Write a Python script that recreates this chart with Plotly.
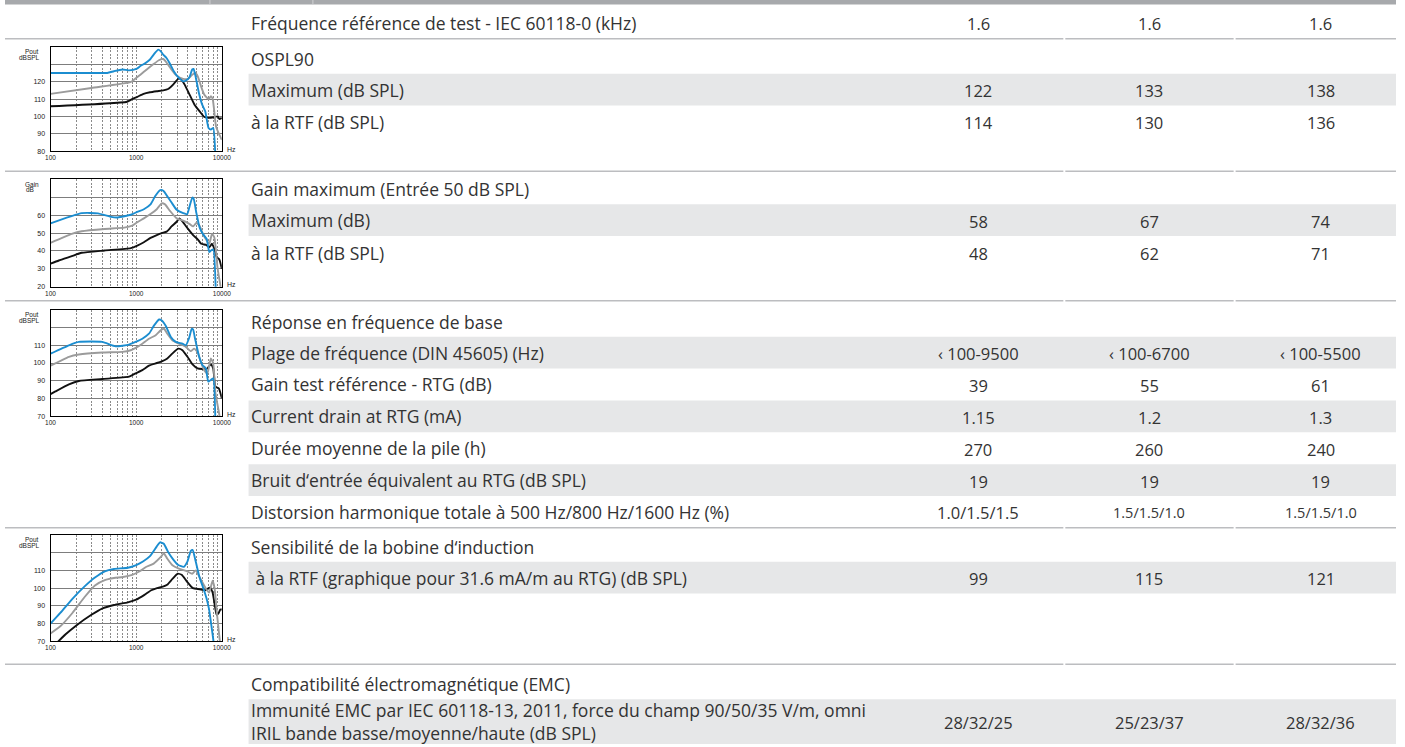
import plotly.graph_objects as go

W, H = 1405, 747

# ---------------- chart data ----------------
FREQ_GRID = [100, 200, 300, 400, 500, 600, 700, 800, 900,
             1000, 2000, 3000, 4000, 5000, 6000, 7000, 8000, 9000, 10000]
FREQ_LABELS = ["100", "", "", "", "", "", "", "", "",
               "1000", "", "", "", "", "", "", "", "", "10000"]

# Chart 1 : OSPL90 (Pout dBSPL)
OSPL_BLUE_F = [100, 300, 460, 550, 690, 820, 1020, 1120, 1270, 1450, 1660, 1810, 1930, 2070,
               2260, 2470, 2750, 3080, 3540, 3850, 4200, 4510, 4680, 4940, 5400, 5900, 6400,
               7000, 7460, 7950, 8420]
OSPL_BLUE_V = [125, 125, 125, 126, 127, 126.5, 127.5, 129, 130.5, 132.7, 136.5, 138.4, 137.5, 135.5,
               133.6, 130.4, 126, 122.7, 120.2, 120.8, 122.7, 127, 127.3, 123, 113.5, 106.8, 103,
               93.4, 92.5, 93.4, 76]
OSPL_GRAY_F = [100, 300, 857, 950, 1120, 1330, 1570, 1840, 2070, 2260, 2580, 2950, 3540, 4020,
               4510, 4940, 5240, 5720, 6230, 7000, 7460, 7830, 8550, 9340, 10000]
OSPL_GRAY_V = [113, 116.4, 119.7, 121.2, 124, 127, 129.8, 132.3, 133, 131, 127, 123.5, 121.6, 121.6,
               124, 125, 123, 117.4, 112.6, 110, 111.6, 110, 94.4, 89.6, 86.7]
OSPL_BLACK_F = [100, 783, 895, 1020, 1220, 1450, 1740, 2070, 2360, 2700, 3080, 3170, 3370, 3680,
                4200, 4800, 5500, 6260, 7160, 8170, 8950, 9340, 10000]
OSPL_BLACK_V = [105.9, 108.5, 110, 111.2, 113, 113.9, 114.5, 115, 115.8, 118.3, 121.6, 122, 121.2, 118.3,
                112.6, 106.8, 103, 99.7, 99.2, 99.7, 100.1, 98.6, 99.2]

# Chart 2 : Gain maximum (Gain dB)
GAIN_BLUE_F = [100, 231, 358, 510, 610, 867, 1030, 1230, 1470, 1670, 1910, 2090, 2270, 2590,
               2970, 3540, 3930, 4220, 4530, 4690, 5030, 5500, 6010, 6660, 7140, 7470, 7950, 8520]
GAIN_BLUE_V = [55.4, 61.1, 61, 59, 58.7, 60.2, 61.8, 63.3, 66, 70.7, 74, 73.5, 71, 67,
               63, 61.1, 60.5, 65.2, 69.8, 69.2, 61.5, 53.2, 49.5, 46.7, 39.4, 40.3, 40.8, 15]
GAIN_GRAY_F = [100, 177, 231, 428, 725, 900, 1030, 1230, 1470, 1740, 1990, 2170, 2480, 2970,
               3540, 4220, 4620, 5030, 5500, 6010, 6660, 7140, 7670, 8170, 8940, 9770]
GAIN_GRAY_V = [44.5, 49.5, 51, 52.3, 53, 54.1, 56, 58.2, 60.6, 63.3, 66.6, 66, 62.4, 58.2,
               56.9, 55, 53.7, 55.6, 54.1, 49.5, 45.8, 44, 49.5, 47.6, 30.1, 19]
GAIN_BLACK_F = [100, 125, 177, 231, 428, 867, 1030, 1230, 1470, 1740, 1990, 2270, 2590, 2970,
                3190, 3540, 4030, 4620, 5260, 5750, 6570, 7140, 7670, 8170, 8700, 9350, 10000]
GAIN_BLACK_V = [32.9, 34.7, 37.1, 39, 40.3, 41.6, 43, 44.9, 47.3, 48.9, 50, 50.8, 53.7, 56.3,
                58.2, 56, 52.3, 48.9, 46.4, 44, 43.4, 42.1, 44, 41.2, 36.6, 35.3, 30.1]

# Chart 3 : Réponse en fréquence de base (Pout dBSPL)
RESP_BLUE_F = [100, 164, 214, 402, 575, 825, 985, 1180, 1410, 1620, 1850, 1990, 2220, 2540,
               2900, 3470, 3800, 4150, 4450, 4620, 4870, 5440, 5950, 6500, 6950, 7440, 7930, 8430]
RESP_BLUE_V = [105.3, 110, 111.9, 111.9, 109.4, 110.4, 111.9, 113.7, 116.5, 121.2, 124.5, 124, 120.8, 114.7,
               111.9, 110.9, 110, 114.1, 119.3, 118.9, 113.7, 103.5, 98.8, 97, 89.5, 90.5, 91.4, 65]
RESP_GRAY_F = [100, 164, 214, 402, 689, 862, 985, 1180, 1410, 1690, 1930, 2110, 2310, 2640,
               3170, 3800, 4340, 4750, 5200, 5680, 6220, 6790, 7440, 7930, 8430, 9210, 9630]
RESP_GRAY_V = [98.5, 103.5, 104.8, 105.9, 106.3, 107.2, 108.5, 110.9, 113.7, 115.6, 118.4, 119.3, 116.5, 112.8,
               110.9, 109.1, 106.7, 108.1, 106.3, 100.7, 96, 94.2, 102.6, 99.8, 83, 72.8, 67]
RESP_BLACK_F = [100, 114, 164, 214, 402, 825, 985, 1180, 1410, 1690, 2020, 2310, 2640, 3100,
                3470, 3970, 4550, 5200, 5950, 6640, 7440, 7930, 8430, 9210, 10000]
RESP_BLACK_V = [82.5, 84, 88, 89.9, 91, 92.3, 94.2, 96, 98.5, 99.8, 101.1, 102.6, 105.3, 108.1,
                107.2, 103.5, 99.2, 97, 96.6, 96.6, 99.2, 97, 86.7, 85.8, 80.2]

# Chart 4 : Sensibilité de la bobine d'induction (Pout dBSPL)
COIL_BLUE_F = [100, 130, 180, 250, 330, 430, 550, 800, 1000, 1200, 1450, 1740, 1900, 2100,
               2350, 2700, 3100, 3600, 3950, 4350, 4560, 4900, 5500, 6000, 6600, 7100, 7500, 7900, 8200]
COIL_BLUE_V = [80, 86, 94, 101, 106, 109.5, 110.8, 111.5, 113, 115, 118, 123.5, 125.8, 125,
               120.5, 116.2, 113, 112, 114.8, 121, 121.5, 116, 106, 100.8, 94.6, 88, 80, 72, 66]
COIL_GRAY_F = [100, 130, 180, 250, 330, 430, 550, 700, 900, 1100, 1300, 1600, 1950, 2100,
               2300, 2650, 3150, 3950, 4500, 4950, 5500, 6400, 7100, 7800, 8200, 8800, 9400, 9700]
COIL_GRAY_V = [74.5, 78.5, 86, 95, 101.5, 104.5, 105.7, 106.3, 107.5, 109.5, 111.9, 113.8, 117.7, 119.6,
               116.7, 112.9, 111, 109.4, 108.1, 110, 106.2, 100.4, 97.5, 104.2, 100.4, 85, 72, 66]
COIL_BLACK_F = [112, 150, 200, 300, 400, 550, 800, 1000, 1250, 1500, 1750, 2050, 2300, 2650,
                3050, 3400, 3900, 4600, 5500, 6400, 7300, 7800, 8300, 8700, 9200, 9600, 10000]
COIL_BLACK_V = [68, 74, 79, 85, 88.5, 90.5, 92, 93.5, 96.2, 98.8, 100, 100.8, 101.9, 105.2,
                108.1, 107.5, 103.8, 100, 99.4, 98.8, 100.4, 97.5, 90, 85, 86, 88, 88]

# ---------------- table data ----------------
HEADER_LABEL = "Fréquence référence de test - IEC 60118-0 (kHz)"
HEADER_VALUES = ["1.6", "1.6", "1.6"]

SECTION_TITLES = ["OSPL90",
                  "Gain maximum (Entrée 50 dB SPL)",
                  "Réponse en fréquence de base",
                  "Sensibilité de la bobine d‘induction",
                  "Compatibilité électromagnétique (EMC)"]

ROW_LABELS = ["Maximum (dB SPL)",
              "à la RTF (dB SPL)",
              "Maximum (dB)",
              "à la RTF (dB SPL)",
              "Plage de fréquence (DIN 45605) (Hz)",
              "Gain test référence - RTG (dB)",
              "Current drain at RTG (mA)",
              "Durée moyenne de la pile (h)",
              "Bruit d‘entrée équivalent au RTG (dB SPL)",
              "Distorsion harmonique totale à 500 Hz/800 Hz/1600 Hz (%)",
              " à la RTF (graphique pour 31.6 mA/m au RTG) (dB SPL)",
              "Immunité EMC par IEC 60118-13, 2011, force du champ 90/50/35 V/m, omni<br>IRIL bande basse/moyenne/haute (dB SPL)"]
COL1_VALUES = ["122", "114", "58", "48", "‹ 100-9500", "39", "1.15", "270", "19", "1.0/1.5/1.5", "99", "28/32/25"]
COL2_VALUES = ["133", "130", "67", "62", "‹ 100-6700", "55", "1.2", "260", "19", "1.5/1.5/1.0", "115", "25/23/37"]
COL3_VALUES = ["138", "136", "74", "71", "‹ 100-5500", "61", "1.3", "240", "19", "1.5/1.5/1.0", "121", "28/32/36"]

# ---------------- layout (pixel positions) ----------------
def X(px):
    return px / W


def Y(py):
    return 1 - py / H


TEXT_FONT = "Open Sans"
TEXT_COLOR = "#333333"
TEXT_SIZE = 17.5
VALUE_SIZE = 16.5
SHADE = "#e6e7e8"
RULE = "#bcbdc0"
LABEL_X = 246
COL_X = [983, 1156, 1329]

SECTION_Y = [59, 190, 323, 549, 687]
ROW_Y = [90, 122, 221, 254, 354, 386, 418, 450, 482, 514, 580, 724]
SHADE_BANDS = [(74, 106), (205, 237), (338, 370), (402, 434), (466, 498), (564, 596), (702, 747)]
RULES_Y = [39, 172, 302, 530, 667]

BLUE = "#1b8dd0"
GRAY = "#9b9b9b"
BLACK = "#111111"

charts = [
    dict(top=47, bottom=152, yr=(80, 140), unit=("Pout", "dBSPL"),
         series=[(OSPL_BLACK_F, OSPL_BLACK_V, BLACK), (OSPL_GRAY_F, OSPL_GRAY_V, GRAY),
                 (OSPL_BLUE_F, OSPL_BLUE_V, BLUE)]),
    dict(top=180, bottom=288, yr=(20, 80), unit=("Gain", "dB"),
         series=[(GAIN_BLACK_F, GAIN_BLACK_V, BLACK), (GAIN_GRAY_F, GAIN_GRAY_V, GRAY),
                 (GAIN_BLUE_F, GAIN_BLUE_V, BLUE)]),
    dict(top=311, bottom=418, yr=(70, 130), unit=("Pout", "dBSPL"),
         series=[(RESP_BLACK_F, RESP_BLACK_V, BLACK), (RESP_GRAY_F, RESP_GRAY_V, GRAY),
                 (RESP_BLUE_F, RESP_BLUE_V, BLUE)]),
    dict(top=537, bottom=644, yr=(70, 130), unit=("Pout", "dBSPL"),
         series=[(COIL_BLACK_F, COIL_BLACK_V, BLACK), (COIL_GRAY_F, COIL_GRAY_V, GRAY),
                 (COIL_BLUE_F, COIL_BLUE_V, BLUE)]),
]

CH_LEFT, CH_RIGHT = 46, 219
SMALL = "Liberation Sans, Arial"
AX_FONT = dict(family=SMALL, size=7, color="#222")

fig = go.Figure()
shapes = []
annotations = []

# top header strip
shapes.append(dict(type="rect", xref="paper", yref="paper", x0=0, x1=1, y0=Y(4.5), y1=1,
                   fillcolor="#a7a9ac", line_width=0, layer="below"))
for sx in (207, 311):
    shapes.append(dict(type="line", xref="paper", yref="paper", x0=X(sx), x1=X(sx), y0=Y(4.5), y1=1,
                       line=dict(color="#d0d1d3", width=1)))

# shaded rows
for (t, b) in SHADE_BANDS:
    shapes.append(dict(type="rect", xref="paper", yref="paper", x0=X(246), x1=1, y0=Y(b), y1=Y(t),
                       fillcolor=SHADE, line_width=0, layer="below"))
# rules
for ry in RULES_Y:
    for (a, b) in ((0, 1069), (1071, 1241), (1243, W)):
        shapes.append(dict(type="line", xref="paper", yref="paper", x0=X(a), x1=X(b), y0=Y(ry), y1=Y(ry),
                           line=dict(color=RULE, width=1.5), layer="below"))


def txt(text, px, py, anchor="left", size=TEXT_SIZE):
    annotations.append(dict(text=text, x=X(px), y=Y(py), xref="paper", yref="paper",
                            xanchor=anchor, yanchor="middle", showarrow=False, align="left",
                            font=dict(family=TEXT_FONT, size=size, color=TEXT_COLOR)))


# header row
txt(HEADER_LABEL, LABEL_X, 23)
for cx, v in zip(COL_X, HEADER_VALUES):
    txt(v, cx, 24, "center", VALUE_SIZE)

for title, sy in zip(SECTION_TITLES, SECTION_Y):
    txt(title, LABEL_X, sy)

for i, (lab, ry) in enumerate(zip(ROW_LABELS, ROW_Y)):
    txt(lab, LABEL_X, ry)
    for j, vals in enumerate((COL1_VALUES, COL2_VALUES, COL3_VALUES)):
        size = VALUE_SIZE
        if i == 9 and j > 0:
            size = 14.5
        txt(vals[i], COL_X[j], ry + 1, "center", size)

# mini charts
layout_axes = {}
for k, ch in enumerate(charts, start=1):
    xa = "x" if k == 1 else f"x{k}"
    ya = "y" if k == 1 else f"y{k}"
    for (f, v, col) in ch["series"]:
        fig.add_trace(go.Scatter(x=f, y=v, mode="lines", xaxis=xa, yaxis=ya,
                                 line=dict(color=col, width=1.9, shape="spline", smoothing=0.5),
                                 showlegend=False, hoverinfo="skip"))
    lo, hi = ch["yr"]
    yt = list(range(lo, hi + 1, 10))
    ytxt = [str(t) if t <= lo + 40 else "" for t in yt]
    layout_axes["xaxis" if k == 1 else f"xaxis{k}"] = dict(
        type="log", range=[2, 4], domain=[X(CH_LEFT), X(CH_RIGHT)],
        anchor=ya, tickmode="array", tickvals=FREQ_GRID, ticktext=FREQ_LABELS,
        showgrid=True, gridcolor="#8a8a8a", gridwidth=0.8, griddash="2px,1.5px",
        showline=True, mirror=True, linecolor="#000", linewidth=1,
        ticks="", tickfont=dict(family=SMALL, size=6.5, color="#222"),
        zeroline=False, fixedrange=True, tickangle=0)
    layout_axes["yaxis" if k == 1 else f"yaxis{k}"] = dict(
        range=[lo, hi], domain=[Y(ch["bottom"]), Y(ch["top"])],
        anchor=xa, tickmode="array", tickvals=yt, ticktext=ytxt,
        showgrid=True, gridcolor="#7d7d7d", gridwidth=0.8,
        showline=True, mirror=True, linecolor="#000", linewidth=1,
        ticks="", tickfont=AX_FONT, zeroline=False, fixedrange=True, ticklabelstandoff=3)
    u1, u2 = ch["unit"]
    annotations.append(dict(text=u1, x=X(27), y=Y(ch["top"] + 5), xref="paper", yref="paper",
                            xanchor="center", yanchor="middle", showarrow=False,
                            font=dict(family=SMALL, size=6.5, color="#222")))
    annotations.append(dict(text=u2, x=X(25), y=Y(ch["top"] + 10.5), xref="paper", yref="paper",
                            xanchor="center", yanchor="middle", showarrow=False,
                            font=dict(family=SMALL, size=6.5, color="#222")))
    annotations.append(dict(text="Hz", x=X(229), y=Y(ch["bottom"] - 2), xref="paper", yref="paper",
                            xanchor="center", yanchor="middle", showarrow=False,
                            font=dict(family=SMALL, size=7, color="#222")))

fig.update_layout(width=W, height=H, margin=dict(l=0, r=0, t=0, b=0),
                  paper_bgcolor="white", plot_bgcolor="white",
                  shapes=shapes, annotations=annotations, showlegend=False, **layout_axes)

fig.write_html("out.html", config={"displayModeBar": False},
               post_script="document.body.style.margin='0px';document.body.style.overflow='hidden';")
